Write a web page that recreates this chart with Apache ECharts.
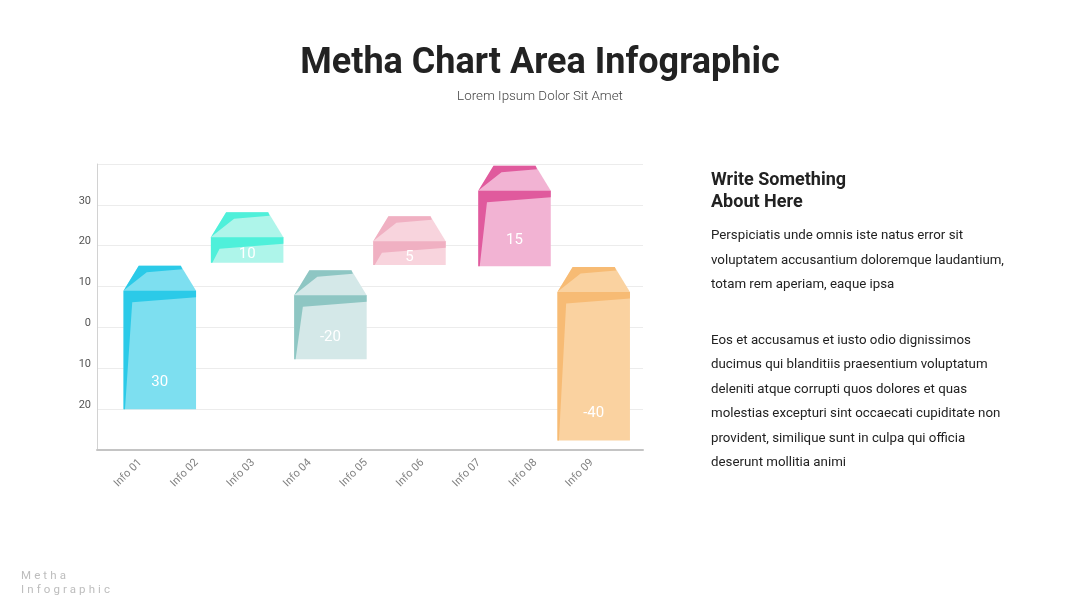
<!DOCTYPE html>
<html>
<head>
<meta charset="utf-8">
<script src="https://cdn.jsdelivr.net/npm/echarts@6/dist/echarts.min.js"></script>
<style>
  html, body { margin: 0; padding: 0; background: #fff; }
  #chart { width: 1080px; height: 608px; }
  #footer { position: absolute; left: 21px; top: 568px; font: 11.5px Roboto, sans-serif; color: #bdbdbd; letter-spacing: 3.1px; line-height: 14px; }
</style>
</head>
<body>
<div id="chart"></div>
<div id="footer">Metha<br>Infographic</div>
<script>
// ---- data ----
const categories = ['Info 01', 'Info 02', 'Info 03', 'Info 04', 'Info 05', 'Info 06', 'Info 07', 'Info 08', 'Info 09'];
const yTickValues = [-30, -20, -10, 0, 10, 20, 30, 40];
const barPositions = [11.5, 27.5, 42.75, 57.23, 76.47, 90.97]; // x position along plot (0-100 scale)
const barLow = [-20, 15.8, -7.8, 15.3, 15.0, -27.7];
const barHigh = [15.1, 28.2, 14.0, 27.2, 39.6, 14.8];
const barLabels = ['30', '10', '-20', '5', '15', '-40'];

const lightColors = ['#7ddff0', '#aef5ea', '#d4e8e8', '#f8d4dd', '#f2b3d3', '#fad2a0'];
const darkColors = ['#2bcae8', '#4ff0da', '#8ec6c3', '#f0b0c2', '#e05a9d', '#f7bb74'];

const BAR_WIDTH_UNITS = 13.28;

const seriesData = barPositions.map((x, i) => [x, barLow[i], barHigh[i], i]);

function renderHouse(params, api) {
  const xc = api.value(0), lo = api.value(1), hi = api.value(2), idx = api.value(3);
  const pTop = api.coord([xc, hi]);
  const pBot = api.coord([xc, lo]);
  const w = api.size([BAR_WIDTH_UNITS, 0])[0];
  const x0 = pTop[0] - w / 2;
  const yt = pTop[1], yb = pBot[1];
  const roof = 25;
  const light = lightColors[idx], dark = darkColors[idx];
  const body = [
    [x0 + 0.21 * w, yt], [x0 + 0.79 * w, yt], [x0 + w, yt + roof],
    [x0 + w, yb], [x0, yb], [x0, yt + roof]
  ];
  const roofDark = [
    [x0 + 0.21 * w, yt], [x0 + 0.79 * w, yt], [x0 + 0.81 * w, yt + 3.5],
    [x0 + 0.32 * w, yt + 6.5], [x0 + 0.04 * w, yt + roof - 2.5], [x0, yt + roof]
  ];
  const bandDark = [
    [x0, yt + roof], [x0 + w, yt + roof], [x0 + w, yt + roof + 6.5],
    [x0 + 0.12 * w, yt + roof + 11.5], [x0 + 0.02 * w, yb], [x0, yb]
  ];
  const bodyH = yb - (yt + roof);
  const labelY = yb - Math.min(27, bodyH * 0.34);
  return {
    type: 'group',
    children: [
      { type: 'polygon', shape: { points: body }, style: { fill: light } },
      { type: 'polygon', shape: { points: roofDark }, style: { fill: dark } },
      { type: 'polygon', shape: { points: bandDark }, style: { fill: dark } },
      { type: 'text', style: { text: barLabels[idx], x: pTop[0], y: labelY, align: 'center', verticalAlign: 'middle', fill: '#ffffff', font: '15px Roboto, sans-serif' } }
    ]
  };
}

const chart = echarts.init(document.getElementById('chart'), null, { renderer: 'canvas' });
const option = {
  backgroundColor: '#ffffff',
  animation: false,
  grid: [
    { left: 97, right: 437, top: 164, bottom: 158 },
    { left: 112, width: 508, top: 164, bottom: 158 }
  ],
  xAxis: [
    {
      type: 'value', gridIndex: 0, min: 0, max: 100,
      axisLine: { show: true, onZero: false, lineStyle: { color: '#c4c4c4', width: 2 } },
      axisTick: { show: false }, axisLabel: { show: false }, splitLine: { show: false }
    },
    {
      type: 'category', gridIndex: 1, data: categories,
      axisLine: { show: false }, axisTick: { show: false }, splitLine: { show: false },
      axisLabel: { rotate: 45, margin: 11, color: '#808080', fontSize: 11, fontFamily: 'Roboto' }
    }
  ],
  yAxis: [
    {
      type: 'value', gridIndex: 0, min: yTickValues[0], max: yTickValues[yTickValues.length - 1], interval: 10,
      axisLine: { show: true, lineStyle: { color: '#d2d2d2', width: 1 } },
      axisTick: { show: false },
      splitLine: { show: true, lineStyle: { color: '#ececec', width: 1 } },
      axisLabel: {
        margin: 6, color: '#555', fontSize: 11, fontFamily: 'Roboto', verticalAlign: 'bottom', lineHeight: 8,
        formatter: v => (v === yTickValues[0] || v === yTickValues[yTickValues.length - 1]) ? '' : String(Math.abs(v))
      }
    },
    { type: 'value', gridIndex: 1, show: false, min: 0, max: 1 }
  ],
  series: [
    {
      type: 'custom', xAxisIndex: 0, yAxisIndex: 0,
      renderItem: renderHouse,
      data: seriesData,
      z: 5
    }
  ],
  graphic: [
    { type: 'text', x: 540, y: 64, style: { text: 'Metha Chart Area Infographic', align: 'center', verticalAlign: 'middle', fill: '#222', font: 'bold 36px Roboto, sans-serif' } },
    { type: 'text', x: 540, y: 97, style: { text: 'Lorem Ipsum Dolor Sit Amet', align: 'center', verticalAlign: 'middle', fill: '#444', font: '300 13.4px Roboto, sans-serif' } },
    { type: 'text', x: 711, y: 169, style: { text: 'Write Something\nAbout Here', align: 'left', verticalAlign: 'top', lineHeight: 22, fill: '#222', font: 'bold 18px Roboto, sans-serif' } },
    { type: 'text', x: 711, y: 223.5, style: { text: 'Perspiciatis unde omnis iste natus error sit\nvoluptatem accusantium doloremque laudantium,\ntotam rem aperiam, eaque ipsa', align: 'left', verticalAlign: 'top', lineHeight: 24.5, fill: '#222', font: '13.3px Roboto, sans-serif' } },
    { type: 'text', x: 711, y: 328.5, style: { text: 'Eos et accusamus et iusto odio dignissimos\nducimus qui blanditiis praesentium voluptatum\ndeleniti atque corrupti quos dolores et quas\nmolestias excepturi sint occaecati cupiditate non\nprovident, similique sunt in culpa qui officia\ndeserunt mollitia animi', align: 'left', verticalAlign: 'top', lineHeight: 24.4, fill: '#222', font: '13.3px Roboto, sans-serif' } }
  ]
};
chart.setOption(option);
</script>
</body>
</html>
